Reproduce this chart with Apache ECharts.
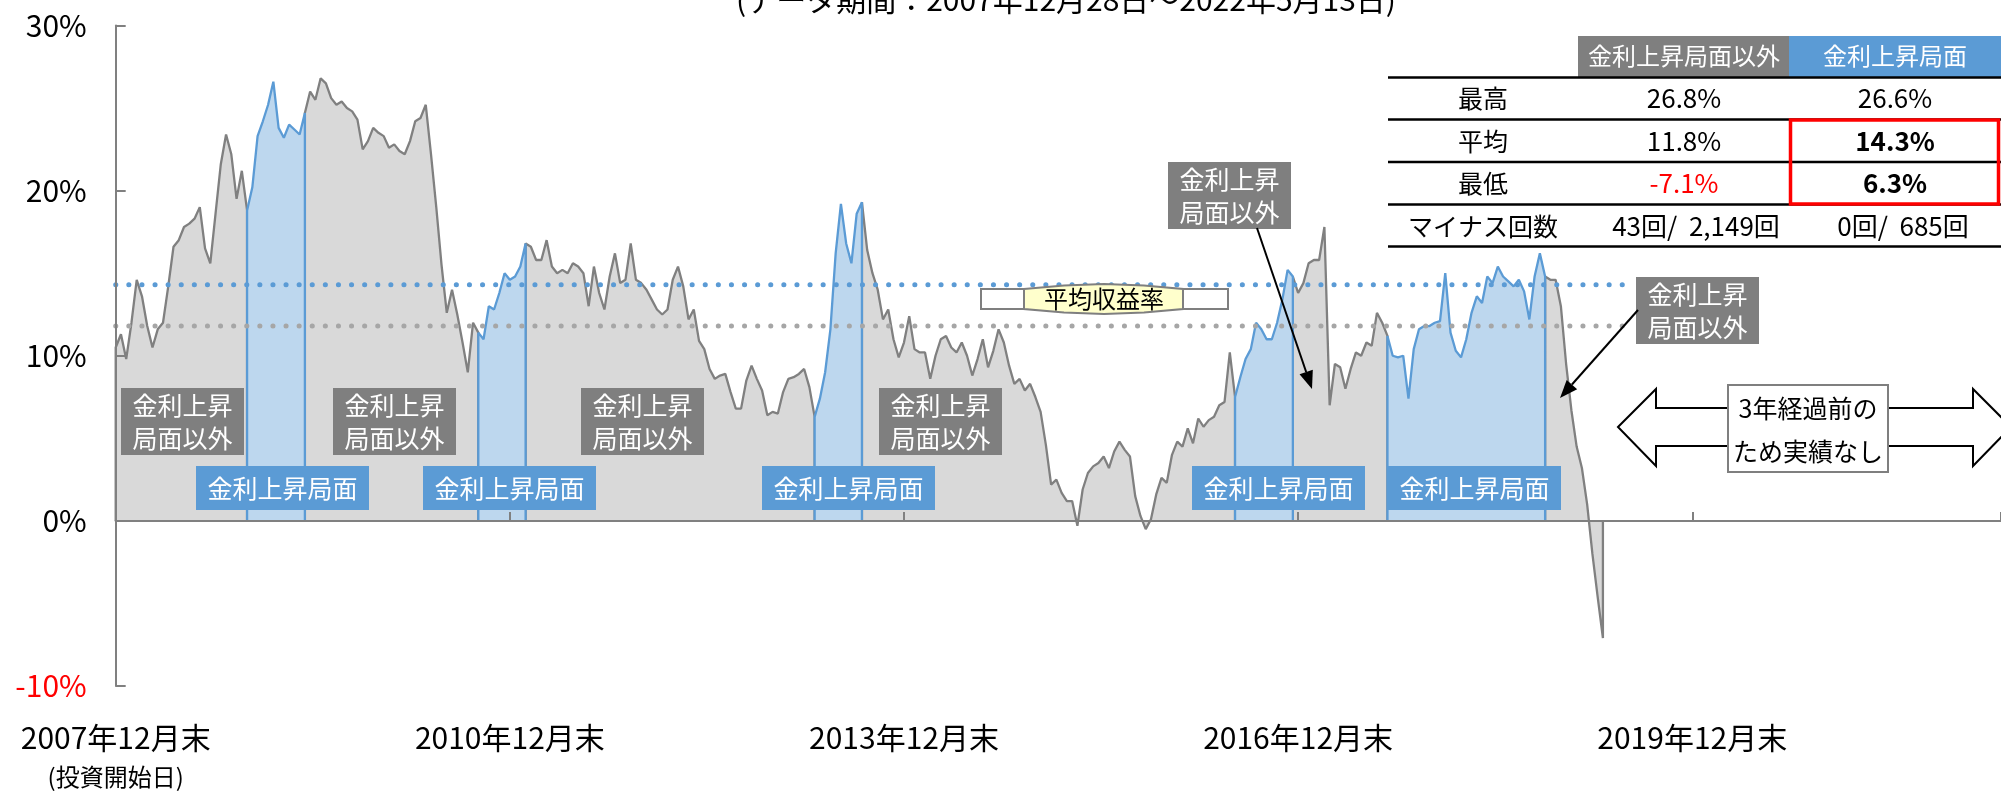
<!DOCTYPE html>
<html>
<head>
<meta charset="utf-8">
<script src="https://cdn.jsdelivr.net/npm/echarts@6/dist/echarts.min.js"></script>
<style>
  html, body { margin: 0; padding: 0; background: #fff; }
  #chart { width: 2001px; height: 792px; }
</style>
</head>
<body>
<div id="chart"></div>
<script>
// 3年保有時の年率リターン(%)、約2週間ごと（STEP 年刻み）に読み取り
const STEP = 0.04;
const returns = [
  10.5, 11.3, 9.8, 12.0, 14.6, 13.6, 11.8, 10.5, 11.6, 12.0,
  14.2, 16.6, 17.0, 17.8, 18.0, 18.3, 19.0, 16.5, 15.6, 18.6,
  21.6, 23.4, 22.2, 19.5, 21.2, 18.8, 20.2, 23.3, 24.2, 25.2,
  26.6, 23.8, 23.2, 24.0, 23.7, 23.4, 24.7, 26.0, 25.5, 26.8,
  26.5, 25.6, 25.2, 25.4, 25.0, 24.8, 24.3, 22.5, 23.0, 23.8,
  23.5, 23.3, 22.6, 22.8, 22.4, 22.2, 23.0, 24.2, 24.4, 25.2,
  22.2, 19.0, 15.5, 12.6, 14.0, 12.5, 10.8, 9.0, 12.0, 11.4,
  11.0, 13.0, 12.8, 13.8, 15.0, 14.6, 14.8, 15.4, 16.8, 16.6,
  15.8, 15.8, 17.0, 15.4, 15.0, 15.2, 15.0, 15.6, 15.4, 15.0,
  13.0, 15.4, 13.8, 12.8, 14.8, 16.2, 14.4, 14.6, 16.8, 14.6,
  14.4, 14.0, 13.4, 12.8, 12.5, 12.8, 14.6, 15.4, 14.2, 12.2,
  12.8, 10.9, 10.4, 9.2, 8.6, 8.8, 8.9, 7.8, 6.8, 6.8,
  8.5, 9.4, 8.6, 7.9, 6.4, 6.6, 6.5, 7.8, 8.6, 8.7,
  8.9, 9.2, 8.1, 6.3, 7.4, 9.0, 11.6, 16.2, 19.2, 16.8,
  15.6, 18.6, 19.3, 16.4, 15.0, 14.0, 12.2, 12.8, 11.0, 9.9,
  10.8, 12.4, 10.4, 10.2, 10.2, 8.6, 10.0, 11.0, 11.2, 10.5,
  10.2, 10.8, 10.0, 8.8, 9.8, 11.0, 9.3, 10.3, 11.6, 10.8,
  9.4, 8.3, 8.6, 7.9, 8.3, 7.5, 6.6, 4.6, 2.2, 2.5,
  1.7, 1.2, 1.2, -0.3, 1.9, 2.9, 3.3, 3.5, 3.9, 3.2,
  4.2, 4.8, 4.3, 3.9, 1.5, 0.3, -0.5, 0.1, 1.6, 2.6,
  2.3, 4.0, 4.8, 4.5, 5.6, 4.7, 6.2, 5.7, 6.1, 6.3,
  7.0, 7.2, 10.2, 7.5, 8.7, 9.8, 10.4, 12.0, 11.6, 11.0,
  11.0, 12.0, 13.4, 15.2, 14.8, 13.8, 14.4, 15.6, 15.8, 15.8,
  17.8, 7.0, 9.5, 9.3, 8.0, 9.2, 10.2, 10.0, 10.8, 10.6,
  12.6, 12.0, 11.2, 10.0, 9.9, 10.0, 7.4, 10.4, 11.6, 11.8,
  11.8, 12.0, 12.1, 15.0, 11.4, 10.3, 9.9, 11.0, 12.6, 13.6,
  13.2, 14.8, 14.4, 15.4, 14.8, 14.5, 14.2, 14.6, 13.9, 12.2,
  14.8, 16.2, 14.8, 14.6, 14.6, 13.0, 9.5, 6.7, 4.5, 3.2,
  1.0, -2.0, -4.6, -7.1
];
// 金利上昇局面（開始・終了の点番号）
const risePeriods = [[25, 36], [69, 78], [133, 142], [213, 224], [242, 272]];
const avgOther = 11.8;
const avgRise = 14.3;
const avgLineEnd = 11.55;
const startYear = 2007;
const yearTicks = 3;

const FONT = '"Noto Sans CJK JP", "Noto Sans", sans-serif';
const GRAY_LINE = '#808080';
const GRAY_FILL = '#d9d9d9';
const BLUE_LINE = '#5b9bd5';
const BLUE_FILL = '#bdd7ee';

// 局面ごとにセグメント分け
const segs = [];
let cur = 0;
risePeriods.forEach(([s, e]) => {
  segs.push({ from: cur, to: s, rise: false });
  segs.push({ from: s, to: e, rise: true });
  cur = e;
});
segs.push({ from: cur, to: returns.length - 1, rise: false });

const seriesList = segs.map(seg => {
  const pts = [[seg.from * STEP, 0]];
  for (let i = seg.from; i <= seg.to; i++) pts.push([i * STEP, returns[i]]);
  pts.push([seg.to * STEP, 0]);
  return {
    type: 'line',
    data: pts,
    symbol: 'none',
    lineStyle: { color: seg.rise ? BLUE_LINE : GRAY_LINE, width: 2.3 },
    areaStyle: { color: seg.rise ? BLUE_FILL : GRAY_FILL, opacity: 1 },
    z: seg.rise ? 3 : 2
  };
});

// 平均線（点線）
[[avgRise, BLUE_LINE], [avgOther, '#a6a6a6']].forEach(([v, c]) => {
  seriesList.push({
    type: 'line',
    data: [[0, v], [avgLineEnd, v]],
    symbol: 'none',
    lineStyle: { color: c, width: 5, type: [0.1, 13], cap: 'round' },
    z: 5
  });
});

// 注記用の部品
function labelBox(x, y, w, h, fill, text) {
  return [
    { type: 'rect', shape: { x: x, y: y, width: w, height: h }, style: { fill: fill }, z: 20 },
    { type: 'text', x: x + w / 2, y: y + h / 2, z: 21,
      style: { text: text, fill: '#fff', fontSize: 25, fontFamily: FONT, align: 'center', verticalAlign: 'middle', lineHeight: 33 } }
  ];
}
function arrow(x1, y1, x2, y2) {
  const a = Math.atan2(y2 - y1, x2 - x1), L = 18, W = 7;
  const bx = x2 - L * Math.cos(a), by = y2 - L * Math.sin(a);
  const px = -Math.sin(a) * W, py = Math.cos(a) * W;
  return [
    { type: 'line', shape: { x1: x1, y1: y1, x2: bx, y2: by }, style: { stroke: '#000', lineWidth: 2 }, z: 22 },
    { type: 'polygon', shape: { points: [[x2, y2], [bx + px, by + py], [bx - px, by - py]] }, style: { fill: '#000' }, z: 22 }
  ];
}
function txt(x, y, text, opt) {
  return { type: 'text', x: x, y: y, z: 31,
    style: Object.assign({ text: text, fill: '#000', fontSize: 25, fontFamily: FONT, align: 'center', verticalAlign: 'middle' }, opt || {}) };
}

const graphics = [];
// タイトル（上端で切れている）
graphics.push(txt(1066, 0, '(データ期間：2007年12月28日～2022年5月13日)', { fontSize: 30 }));

// 局面ラベル
const grayBoxes = [[121, 388], [333, 388], [581, 388], [879, 388], [1168, 162], [1636, 277]];
grayBoxes.forEach(([x, y]) => graphics.push(...labelBox(x, y, 123, 67, '#7f7f7f', '金利上昇\n局面以外')));
const blueBoxes = [[196, 466], [423, 466], [762, 466], [1192, 466], [1388, 466]];
blueBoxes.forEach(([x, y]) => graphics.push(...labelBox(x, y, 173, 44, BLUE_LINE, '金利上昇局面')));
graphics.push(...arrow(1257, 228, 1312, 389));
graphics.push(...arrow(1638, 310, 1560, 398));

// 平均収益率リボン
graphics.push({ type: 'polygon', z: 24, shape: { points: [[981, 289], [1024, 289], [1024, 309], [981, 309]] },
  style: { fill: '#fff', stroke: '#7f7f7f', lineWidth: 2 } });
graphics.push({ type: 'polygon', z: 24, shape: { points: [[1183, 289], [1228, 289], [1228, 309], [1183, 309]] },
  style: { fill: '#fff', stroke: '#7f7f7f', lineWidth: 2 } });
graphics.push({ type: 'polygon', z: 25,
  shape: { points: [[1024, 289], [1064, 285.5], [1104, 284], [1144, 285.5], [1183, 289], [1183, 309], [1144, 312.5], [1104, 314], [1064, 312.5], [1024, 309]] },
  style: { fill: '#ffffcc', stroke: '#7f7f7f', lineWidth: 2 } });
graphics.push(txt(1104, 299, '平均収益率', { fontSize: 24 }));

// 3年経過前の両矢印
graphics.push({ type: 'polygon', z: 26,
  shape: { points: [[1618, 427], [1656, 389], [1656, 408], [1973, 408], [1973, 389], [2011, 427], [1973, 466], [1973, 446], [1656, 446], [1656, 466]] },
  style: { fill: '#fff', stroke: '#000', lineWidth: 2 } });
graphics.push({ type: 'rect', z: 27, shape: { x: 1728, y: 385, width: 160, height: 87 },
  style: { fill: '#fff', stroke: '#7f7f7f', lineWidth: 2 } });
graphics.push(txt(1808, 408, '3年経過前の'));
graphics.push(txt(1808, 451, 'ため実績なし'));

// 表
graphics.push({ type: 'rect', z: 30, shape: { x: 1578, y: 36, width: 211, height: 41 }, style: { fill: '#7f7f7f' } });
graphics.push({ type: 'rect', z: 30, shape: { x: 1789, y: 36, width: 212, height: 41 }, style: { fill: BLUE_LINE } });
graphics.push(txt(1684, 56, '金利上昇局面以外', { fill: '#fff', fontSize: 24 }));
graphics.push(txt(1895, 56, '金利上昇局面', { fill: '#fff', fontSize: 24 }));
[77.5, 119.5, 162, 204.5, 246.5].forEach(y => graphics.push({ type: 'line', z: 30,
  shape: { x1: 1388, y1: y, x2: 2001, y2: y }, style: { stroke: '#000', lineWidth: 2.5 } }));
const rowY = [98, 141, 183, 226];
const rowNames = ['最高', '平均', '最低', 'マイナス回数'];
const colOther = ['26.8%', '11.8%', '-7.1%', '43回/  2,149回'];
const colRise = ['26.6%', '14.3%', '6.3%', '0回/  685回'];
rowNames.forEach((n, k) => {
  graphics.push(txt(1483, rowY[k], n));
  graphics.push(txt(k === 3 ? 1696 : 1684, rowY[k], colOther[k], { fontSize: 26, fill: k === 2 ? '#ff0000' : '#000' }));
  graphics.push(txt(k === 3 ? 1903 : 1895, rowY[k], colRise[k], { fontSize: 26, fontWeight: (k === 1 || k === 2) ? 'bold' : 'normal' }));
});
graphics.push({ type: 'rect', z: 32, shape: { x: 1790.5, y: 120, width: 208, height: 84 },
  style: { fill: 'none', stroke: '#ff0000', lineWidth: 3.5 } });

const chart = echarts.init(document.getElementById('chart'));
chart.setOption({
  animation: false,
  backgroundColor: '#fff',
  grid: { left: 115.7, right: 0, top: 25.5, bottom: 106 },
  xAxis: [{
    type: 'value', min: 0, max: 14.35, interval: yearTicks,
    axisLine: { onZero: true, lineStyle: { color: GRAY_LINE, width: 2 } },
    axisTick: { inside: true, length: 9, lineStyle: { color: GRAY_LINE, width: 2 } },
    axisLabel: { show: false },
    splitLine: { show: false },
    z: 6
  }, {
    type: 'value', min: 0, max: 14.35, interval: yearTicks, position: 'bottom',
    axisLine: { show: false, onZero: false },
    axisTick: { show: false },
    splitLine: { show: false },
    axisLabel: {
      margin: 33, showMaxLabel: false,
      formatter: v => v === 0
        ? '{a|' + startYear + '年12月末}\n{b|(投資開始日)}'
        : '{a|' + (startYear + v) + '年12月末}',
      rich: {
        a: { fontSize: 30, lineHeight: 38, color: '#000', fontFamily: FONT },
        b: { fontSize: 24, lineHeight: 40, color: '#000', fontFamily: FONT }
      }
    }
  }],
  yAxis: {
    type: 'value', min: -10, max: 30, interval: 10,
    axisLine: { show: true, lineStyle: { color: GRAY_LINE, width: 2 } },
    axisTick: { show: true, inside: true, length: 10, lineStyle: { color: GRAY_LINE, width: 2 } },
    splitLine: { show: false },
    axisLabel: {
      margin: 29, fontSize: 30, color: '#000', fontFamily: FONT,
      formatter: v => v < 0 ? '{neg|' + v + '%}' : v + '%',
      rich: { neg: { color: '#ff0000', fontSize: 30, fontFamily: FONT } }
    },
    z: 6
  },
  series: seriesList,
  graphic: { elements: graphics }
});
</script>
</body>
</html>
